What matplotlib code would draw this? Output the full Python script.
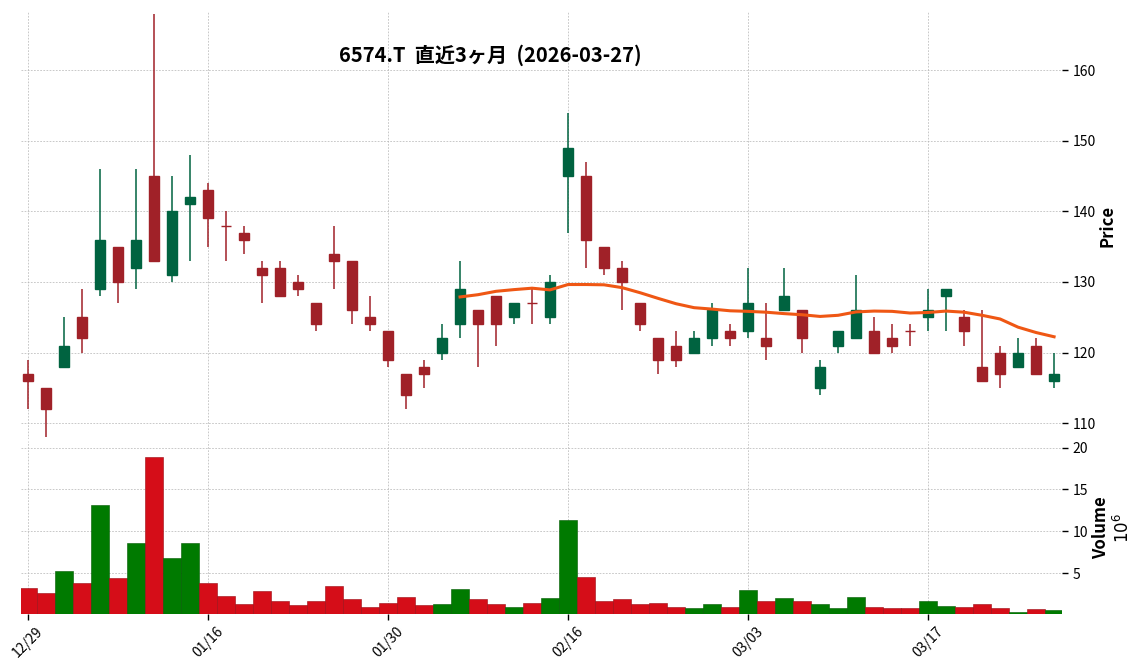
import numpy as np
import pandas as pd
import matplotlib
matplotlib.use('Agg')
import matplotlib.pyplot as plt
from matplotlib.ticker import FuncFormatter

plt.rcParams['font.family'] = ['Noto Sans CJK JP', 'DejaVu Sans']

# trading days (JPX) 2025-12-29 .. 2026-03-27
dates = ['12/29', '12/30', '01/05', '01/06', '01/07', '01/08', '01/09', '01/13', '01/14', '01/15',
         '01/16', '01/19', '01/20', '01/21', '01/22', '01/23', '01/26', '01/27', '01/28', '01/29',
         '01/30', '02/02', '02/03', '02/04', '02/05', '02/06', '02/09', '02/10', '02/12', '02/13',
         '02/16', '02/17', '02/18', '02/19', '02/20', '02/24', '02/25', '02/26', '02/27', '03/02',
         '03/03', '03/04', '03/05', '03/06', '03/09', '03/10', '03/11', '03/12', '03/13', '03/16',
         '03/17', '03/18', '03/19', '03/23', '03/24', '03/25', '03/26', '03/27']

opens = [117, 115, 118, 125, 129, 135, 132, 145, 131, 141,
         143, 138, 137, 132, 132, 130, 127, 134, 133, 125,
         123, 117, 118, 120, 124, 126, 128, 125, 127, 125,
         145, 145, 135, 132, 127, 122, 121, 120, 122, 123,
         123, 122, 126, 126, 115, 121, 122, 123, 122, 123,
         125, 128, 125, 118, 120, 118, 121, 116]
highs = [119, 115, 125, 129, 146, 135, 146, 168, 145, 148,
         144, 140, 138, 133, 133, 131, 127, 138, 133, 128,
         123, 117, 119, 124, 133, 126, 128, 127, 129, 131,
         154, 147, 135, 133, 127, 122, 123, 123, 127, 124,
         132, 127, 132, 126, 119, 123, 131, 125, 124, 124,
         129, 129, 126, 126, 121, 122, 122, 120]
lows = [112, 108, 118, 120, 128, 127, 129, 133, 130, 133,
        135, 133, 134, 127, 128, 128, 123, 129, 124, 123,
        118, 112, 115, 119, 122, 118, 121, 124, 124, 124,
        137, 132, 131, 126, 123, 117, 118, 120, 121, 121,
        122, 119, 126, 120, 114, 120, 122, 120, 120, 121,
        123, 123, 121, 116, 115, 118, 117, 115]
closes = [116, 112, 121, 122, 136, 130, 136, 133, 140, 142,
          139, 138, 136, 131, 128, 129, 124, 133, 126, 124,
          119, 114, 117, 122, 129, 124, 124, 127, 127, 130,
          149, 136, 132, 130, 124, 119, 119, 122, 126, 122,
          127, 121, 128, 122, 118, 123, 126, 120, 121, 123,
          126, 129, 123, 116, 117, 120, 117, 117]
volumes = [3250000, 2660000, 5280000, 3850000, 13130000, 4440000, 8610000, 18850000, 6830000, 8610000,
           3850000, 2300000, 1350000, 2900000, 1710000, 1230000, 1710000, 3490000, 1940000, 990000,
           1470000, 2180000, 1230000, 1350000, 3130000, 1940000, 1350000, 990000, 1470000, 2060000,
           11350000, 4560000, 1710000, 1940000, 1350000, 1470000, 990000, 870000, 1350000, 990000,
           3020000, 1710000, 2060000, 1710000, 1350000, 870000, 2180000, 990000, 870000, 870000,
           1710000, 1110000, 990000, 1350000, 870000, 400000, 750000, 630000]

title = '6574.T  直近3ヶ月  (2026-03-27)'
mav_period = 25

candle_up, candle_down = '#006340', '#a02128'
vol_up, vol_down = '#007a00', '#d50d18'
ma_color = '#ef5714'
grid_kw = dict(color='#b4b4b4', linestyle=(0, (2.5, 2)), linewidth=0.5)

o = np.array(opens, float)
h = np.array(highs, float)
l = np.array(lows, float)
c = np.array(closes, float)
v = np.array(volumes, float)
x = np.arange(len(dates))
up = c > o
ccol = np.where(up, candle_up, candle_down)
vcol = np.where(up, vol_up, vol_down)
mav = pd.Series(c).rolling(mav_period).mean()

W, H = 1144, 670
fig = plt.figure(figsize=(W / 100, H / 100), dpi=100)
ax1 = fig.add_axes([21 / W, 1 - 439 / H, 1041 / W, 427 / H])
ax2 = fig.add_axes([21 / W, 1 - 614 / H, 1041 / W, 172.6 / H], sharex=ax1)

# candles
ax1.vlines(x, l, h, colors=ccol, linewidth=1.1, zorder=2)
body = np.abs(c - o)
ax1.bar(x, body, bottom=np.minimum(o, c), width=0.6, color=ccol,
        edgecolor=ccol, linewidth=1.0, zorder=3)
ax1.plot(x, mav, color=ma_color, linewidth=2.2, zorder=4)

ymin, ymax = l.min(), h.max()
pad = 0.004 * (ymax - ymin)
ax1.set_ylim(ymin - pad, ymax + pad)
ax1.set_xlim(-0.39, 57.44)
ax1.set_yticks([110, 120, 130, 140, 150, 160])

# volume
vedge = np.where(up, '#005a00', '#9a0a12')
ax2.bar(x, v, width=0.98, color=vcol, edgecolor=vedge, linewidth=0.4, zorder=3)
ax2.set_ylim(0.3 * v.min(), 1.1 * v.max())
ax2.set_yticks([5e6, 10e6, 15e6, 20e6])
ax2.yaxis.set_major_formatter(FuncFormatter(lambda val, pos: f'{val / 1e6:g}'))

ticks = list(range(0, len(dates), 10))
ax2.set_xticks(ticks)
ax2.set_xticklabels([dates[i] for i in ticks], rotation=45, fontsize=10)

for ax in (ax1, ax2):
    for s in ax.spines.values():
        s.set_visible(False)
    ax.grid(True, **grid_kw)
    ax.set_axisbelow(True)
    ax.yaxis.tick_right()
    ax.yaxis.set_label_position('right')
    ax.tick_params(axis='y', labelsize=10, length=4, width=1, colors='black')

ax1.tick_params(axis='x', bottom=False, labelbottom=False)
ax2.tick_params(axis='x', length=4, width=1)

ax1.set_ylabel('Price', fontsize=12, fontweight='bold', labelpad=2)
ax2.set_ylabel('Volume\n$10^{6}$', fontsize=12, fontweight='bold', labelpad=3)

fig.text(490 / W, 1 - 55 / H, title, ha='center', va='center',
         fontsize=14.5, fontweight='bold')

fig.savefig('out.png', dpi=100)
